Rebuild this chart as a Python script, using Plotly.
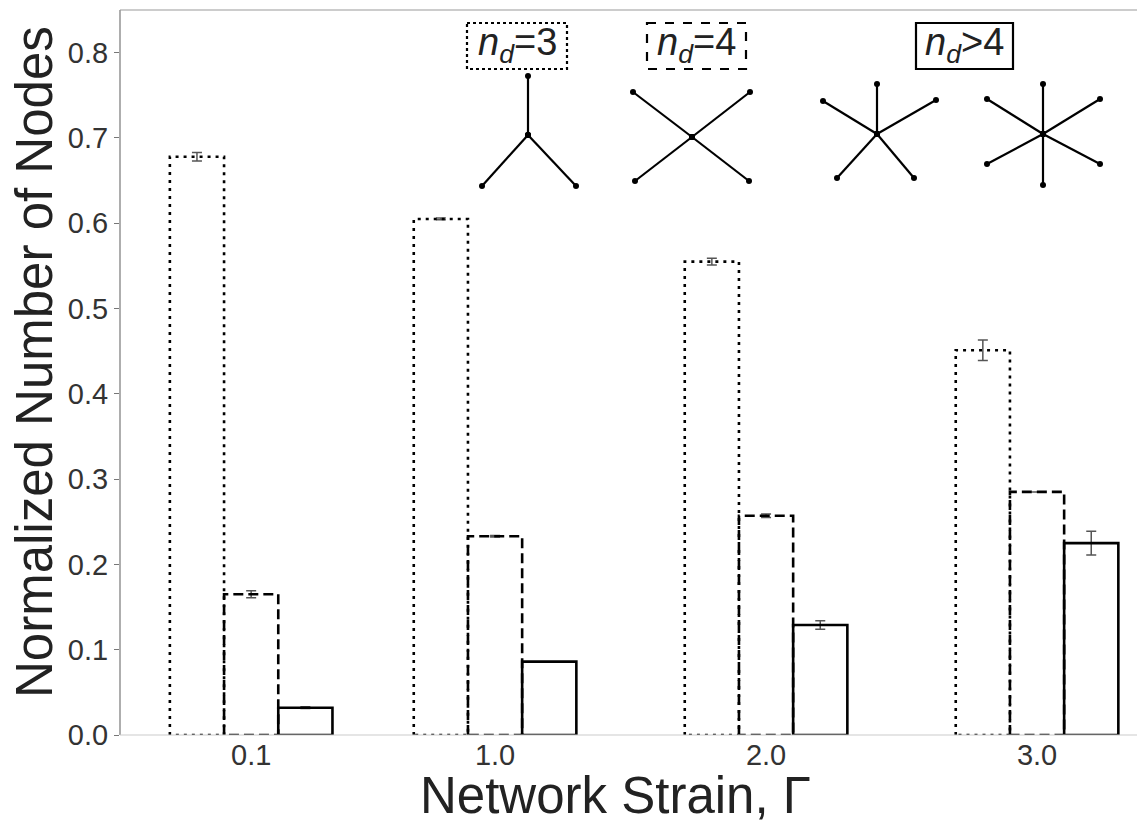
import plotly.graph_objects as go

# ---- data ----
strain_vals = [0.1, 1.0, 2.0, 3.0]
strain_labels = ["0.1", "1.0", "2.0", "3.0"]
nd3_vals = [0.678, 0.605, 0.555, 0.451]
nd3_err = [0.005, 0.001, 0.004, 0.012]
nd4_vals = [0.165, 0.233, 0.257, 0.285]
nd4_err = [0.004, 0.001, 0.002, 0.0]
nd5_vals = [0.032, 0.086, 0.129, 0.225]
nd5_err = [0.001, 0.0, 0.005, 0.014]
y_ticks = [0.0, 0.1, 0.2, 0.3, 0.4, 0.5, 0.6, 0.7, 0.8]

# page body has an 8px margin: figure is placed at (8, 8) on screen
OFF = 8
W, H = 1145 - OFF, 828 - OFF
PL, PR, PT, PB = 120, 1143, 10, 735          # plot area in screen pixels
ML, MR, MT, MB = PL - OFF, 1145 - PR, PT - OFF, 828 - PB
FONT = "Arial, Liberation Sans, sans-serif"


def px(sx):
    return (sx - PL) / (PR - PL)


def py(sy):
    return (PB - sy) / (PB - PT)


bar_w = 0.2
series = [
    (nd3_vals, nd3_err, -bar_w, "3px,5px"),
    (nd4_vals, nd4_err, 0.0, "10px,5px"),
    (nd5_vals, nd5_err, bar_w, "solid"),
]

fig = go.Figure()

# bars (white fill) with error bars
for vals, errs, off, dash in series:
    fig.add_trace(go.Bar(
        x=[p + off for p in strain_vals], y=vals, width=bar_w,
        marker=dict(color="white", line=dict(width=0)),
        error_y=dict(type="data", array=errs, color="#555", thickness=1.5, width=5),
        showlegend=False, hoverinfo="skip",
    ))

# bar outlines with line styles
for vals, errs, off, dash in series:
    xs, ys = [], []
    for p, v in zip(strain_vals, vals):
        x0, x1 = p + off - bar_w / 2, p + off + bar_w / 2
        xs += [x0, x0, x1, x1, x0, None]
        ys += [0, v, v, 0, 0, None]
    fig.add_trace(go.Scatter(
        x=xs, y=ys, mode="lines",
        line=dict(color="black", width=2.6, dash=dash),
        showlegend=False, hoverinfo="skip", connectgaps=False,
    ))

# ---- inset illustrations (decorations, in screen-pixel overlay coords) ----
stars = [
    ((528, 135), [(0, -59), (-46, 51), (48, 51)]),
    ((692, 137), [(-59, -45), (58, -45), (-57, 44), (57, 44)]),
    ((877, 134), [(0, -50), (-54, -33), (59, -34), (-40, 44), (37, 44)]),
    ((1043, 134), [(0, -50), (0, 51), (-56, -35), (57, -35), (-56, 30), (57, 30)]),
]
for (cx, cy), arms in stars:
    xs, ys = [], []
    for dx, dy in arms:
        xs += [cx, cx + dx, None]
        ys += [cy, cy + dy, None]
    fig.add_trace(go.Scatter(
        x=xs, y=ys, mode="lines+markers", xaxis="x2", yaxis="y2",
        line=dict(color="black", width=2.2),
        marker=dict(color="black", size=6),
        showlegend=False, hoverinfo="skip",
    ))

label_boxes = [
    ((467, 567), "dot", "<i>n</i><sub><i>d</i></sub>=3"),
    ((647, 746), "dash", "<i>n</i><sub><i>d</i></sub>=4"),
    ((916, 1013), "solid", "<i>n</i><sub><i>d</i></sub>>4"),
]
shapes = []
annotations = []
for (x0, x1), dash, txt in label_boxes:
    shapes.append(dict(type="rect", xref="x2", yref="y2", x0=x0, x1=x1, y0=23, y1=69,
                       line=dict(color="black", width=2.2, dash=dash), fillcolor="rgba(0,0,0,0)"))
    annotations.append(dict(xref="x2", yref="y2", x=(x0 + x1) / 2, y=45, text=txt,
                            showarrow=False, font=dict(family=FONT, size=38, color="#222"),
                            xanchor="center", yanchor="middle"))

# axis titles (paper coordinates)
annotations.append(dict(xref="paper", yref="paper", x=px(615), y=py(795), text="Network Strain, Γ",
                        showarrow=False, font=dict(family=FONT, size=51, color="#222"),
                        xanchor="center", yanchor="middle"))
annotations.append(dict(xref="paper", yref="paper", x=px(35), y=py(362), text="Normalized Number of Nodes",
                        textangle=-90, showarrow=False,
                        font=dict(family=FONT, size=51, color="#222"),
                        xanchor="center", yanchor="middle"))

# frame lines
shapes += [
    dict(type="line", xref="paper", yref="paper", x0=0, x1=0, y0=0, y1=1, line=dict(color="#777", width=1.2)),
    dict(type="line", xref="paper", yref="paper", x0=0, x1=1, y0=1, y1=1, line=dict(color="#999", width=1.2)),
    dict(type="line", xref="paper", yref="paper", x0=1, x1=1, y0=0, y1=1, line=dict(color="#ccc", width=1.2)),
    dict(type="line", xref="paper", yref="paper", x0=0, x1=1, y0=0, y1=0, line=dict(color="#ccc", width=1.2)),
]

fig.update_layout(
    width=W, height=H,
    margin=dict(l=ML, r=MR, t=MT, b=MB, autoexpand=False),
    paper_bgcolor="white", plot_bgcolor="white",
    font=dict(family=FONT, color="#333"),
    barmode="overlay",
    xaxis=dict(
        range=[-0.384, 3.391], tickvals=strain_vals, ticktext=strain_labels,
        showgrid=False, zeroline=False, showline=False,
        ticks="", tickfont=dict(size=29, color="#333"), automargin=False,
    ),
    yaxis=dict(
        range=[0, 0.85], tickvals=y_ticks, ticktext=[f"{v:.1f}" for v in y_ticks],
        showgrid=False, zeroline=False, showline=False,
        ticks="outside", ticklen=5, tickcolor="#777", automargin=False,
        tickfont=dict(size=29, color="#333"),
    ),
    xaxis2=dict(range=[PL, PR], overlaying="x", anchor="y2", visible=False),
    yaxis2=dict(range=[PB, PT], overlaying="y", anchor="x2", visible=False),
    shapes=shapes,
    annotations=annotations,
)

fig.write_html("out.html")
